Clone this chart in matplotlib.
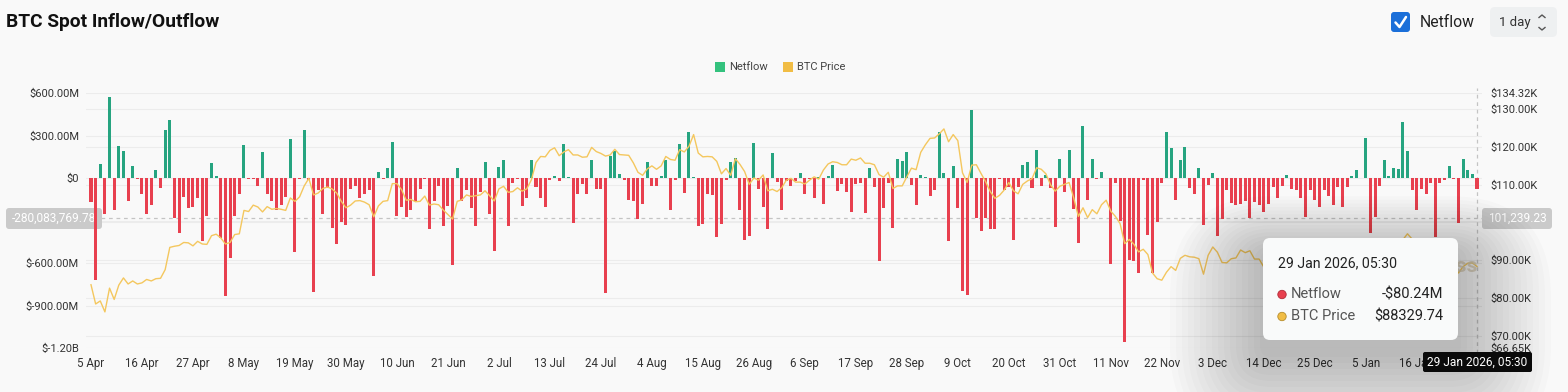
import numpy as np
import pandas as pd
import matplotlib
matplotlib.use("Agg")
import matplotlib.pyplot as plt
from matplotlib.patches import FancyBboxPatch, Rectangle, Circle
from matplotlib.lines import Line2D
from matplotlib.transforms import IdentityTransform

plt.rcParams['font.family'] = ['Roboto', 'DejaVu Sans']

# ---------------- data ----------------
start_date = "2025-04-05"

netflow_musd = [
    -167, -720, 96, -256, 572, -224, 224, 188, -162, 85,
    -3, -111, -252, -191, 56, -73, 336, 409, -280, -388,
    -132, -214, -205, -139, -445, -266, 106, 14, -421, -833,
    -562, -266, -111, 230, -5, -3, -59, 184, -115, -162,
    -228, -191, -134, 273, -522, -8, 339, -10, -802, -87,
    -252, -70, -355, -463, -310, -332, -80, -59, -143, -111,
    -87, -687, 45, -3, 71, 254, -268, -205, -275, -226,
    -158, -80, -5, -362, -162, -59, -339, -198, -616, 71,
    -162, -87, -214, -339, -96, 111, -252, -515, 78, 125,
    -339, -33, -5, -198, -143, 125, -61, -143, -205, -10,
    14, -21, 238, 7, -315, -111, -45, -115, 129, -75,
    -80, -809, 155, 191, 31, -16, -151, -162, -285, -186,
    115, -56, -56, 14, 125, -228, -16, 238, -106, 325,
    7, -339, -327, -111, -120, -416, -327, -12, 115, 139,
    -228, -433, -409, 245, -80, -205, -362, 174, -30, -228,
    -21, -56, -21, 33, -115, -5, -143, 7, -181, 14,
    92, -92, -40, -96, -240, -45, -33, -247, 71, -64,
    -586, -209, -33, -355, 134, 118, 186, -52, -191, 24,
    9, -129, -85, 325, 35, -440, 87, -209, -798, -826,
    482, -280, -374, -280, -362, -362, -9, -87, -60, -433,
    -64, 89, 113, -73, 195, -59, 21, -73, -346, 132,
    -96, 195, -221, -459, 367, -151, 136, -5, 42, 0,
    -605, -35, -303, -1153, -580, -581, -666, -16, -400, -670,
    -308, -34, 328, 210, -152, 130, 219, -70, -112, 74,
    -328, -46, 35, -406, -290, -85, -175, -190, -180, -160,
    -283, -170, -193, -236, -183, -66, -143, -59, 21, -78,
    -83, -137, -275, -83, -153, -205, -83, -129, -188, -64,
    -207, -64, 12, 59, 3, 286, -385, -275, -59, 125,
    12, 68, 63, 393, 193, -83, -228, -78, -111, -35,
    -418, -35, -12, 82, -5, -318, 134, 54, 30, -80.24,
]

btc_price_kusd = [
    83.5, 78.4, 79.2, 76.3, 82.6, 79.6, 83.4, 85.3, 83.7, 84.5,
    83.7, 84.0, 84.9, 84.5, 85.1, 85.2, 87.5, 93.4, 93.7, 93.9,
    94.7, 94.6, 93.8, 95.0, 94.3, 94.2, 96.5, 96.9, 95.9, 94.3,
    94.7, 96.8, 97.0, 103.2, 102.9, 104.6, 104.1, 102.8, 104.2, 103.5,
    103.7, 103.5, 103.2, 106.5, 105.6, 106.8, 109.7, 111.7, 107.3, 107.8,
    109.0, 109.4, 108.9, 107.8, 105.6, 103.9, 104.6, 105.7, 105.8, 105.4,
    104.7, 101.5, 104.4, 105.6, 105.8, 110.3, 110.3, 108.7, 105.9, 106.1,
    105.5, 105.6, 107.0, 104.6, 104.9, 104.7, 103.3, 102.1, 100.9, 105.6,
    106.0, 107.3, 106.9, 107.1, 107.3, 108.4, 107.1, 105.7, 108.9, 109.6,
    108.0, 108.2, 109.2, 108.3, 108.9, 111.3, 115.9, 117.5, 117.4, 119.1,
    119.8, 117.7, 118.7, 119.3, 117.9, 117.9, 117.3, 117.4, 119.9, 118.8,
    118.3, 117.6, 117.9, 119.4, 118.0, 117.9, 117.8, 115.8, 113.3, 112.5,
    114.2, 115.0, 114.1, 115.0, 117.5, 116.7, 116.5, 119.3, 118.7, 120.2,
    123.3, 118.4, 117.4, 117.5, 117.4, 116.2, 112.9, 114.3, 112.5, 116.9,
    115.4, 113.5, 110.1, 111.8, 111.2, 112.6, 108.4, 108.8, 108.2, 109.2,
    111.2, 111.7, 110.7, 110.7, 110.2, 111.2, 112.1, 111.5, 113.9, 115.5,
    116.1, 115.9, 115.3, 115.3, 116.8, 116.5, 117.1, 115.7, 115.7, 115.3,
    112.7, 112.0, 113.3, 109.0, 109.7, 109.7, 112.1, 114.4, 114.0, 118.6,
    120.6, 122.3, 122.4, 123.5, 124.8, 121.4, 123.3, 121.7, 113.2, 110.6,
    115.2, 115.3, 113.0, 110.8, 108.2, 106.4, 107.2, 108.6, 110.6, 108.4,
    107.6, 110.1, 111.0, 111.6, 114.5, 114.1, 112.9, 110.0, 108.3, 109.6,
    110.1, 110.6, 106.5, 101.6, 103.9, 101.3, 103.4, 102.3, 104.7, 105.9,
    103.0, 101.6, 99.7, 94.4, 95.5, 94.2, 92.2, 92.9, 91.5, 86.6,
    85.1, 84.7, 86.8, 88.3, 87.3, 90.5, 91.3, 90.9, 90.8, 90.4,
    86.3, 91.3, 93.5, 92.1, 89.4, 89.3, 90.4, 90.6, 92.7, 92.0,
    92.5, 90.3, 90.3, 88.2, 86.4, 87.8, 86.1, 85.5, 88.1, 88.3,
    88.6, 88.5, 87.6, 87.6, 87.2, 87.3, 87.8, 87.8, 87.1, 88.4,
    87.5, 88.7, 89.9, 90.6, 91.4, 93.8, 93.7, 91.2, 91.0, 90.5,
    90.4, 90.8, 91.1, 95.4, 97.0, 95.6, 95.5, 95.1, 93.6, 92.5,
    88.3, 89.4, 89.5, 89.5, 89.2, 86.6, 88.3, 89.2, 89.3, 88.32974,
]

x_tick_labels = ["5 Apr", "16 Apr", "27 Apr", "8 May", "19 May", "30 May", "10 Jun",
                 "21 Jun", "2 Jul", "13 Jul", "24 Jul", "4 Aug", "15 Aug", "26 Aug",
                 "6 Sep", "17 Sep", "28 Sep", "9 Oct", "20 Oct", "31 Oct", "11 Nov",
                 "22 Nov", "3 Dec", "14 Dec", "25 Dec", "5 Jan", "16 Jan"]

left_ticks_musd = [600, 300, 0, -300, -600, -900, -1200]
left_tick_labels = ["$600.00M", "$300.00M", "$0", "", "$-600.00M", "$-900.00M", "$-1.20B"]
right_ticks_usd = [134320, 130000, 120000, 110000, 100000, 90000, 80000, 70000, 66650]
right_tick_labels = ["$134.32K", "$130.00K", "$120.00K", "$110.00K", "",
                     "$90.00K", "$80.00K", "$70.00K", "$66.65K"]

hover_netflow_musd = -280.08376978
hover_netflow_text = "-280,083,769.78"
hover_price_text = "101,239.23"
tooltip_date = "29 Jan 2026, 05:30"
tooltip_netflow = "-$80.24M"
tooltip_price = "$88329.74"

# ---------------- style ----------------
W, H = 1568, 392
BG = '#f9f9f9'
GREEN = '#26a480'
RED = '#e8404f'
LEG_GREEN = '#34c27e'
PRICE = '#f4c75e'
LEG_YELLOW = '#f1bd45'
GRID = '#ececec'
TXT = '#333333'
T = IdentityTransform()

fig = plt.figure(figsize=(W / 100, H / 100), dpi=100, facecolor=BG)

ax_l, ax_r, ax_t, ax_b = 86, 1482, 93.0, 348.3
ax = fig.add_axes([ax_l / W, 1 - ax_b / H, (ax_r - ax_l) / W, (ax_b - ax_t) / H])
ax.set_facecolor('none')

n = len(netflow_musd)
x = np.arange(n)
price_usd = np.array(btc_price_kusd) * 1000.0

px_per_day = 1386 / 299
xmin = -5 / px_per_day
xmax = xmin + (ax_r - ax_l) / px_per_day
ax.set_xlim(xmin, xmax)
ax.set_ylim(-1200, 600)

# faint grid lines (left and right scales)
p_lo, p_hi = 66650, 134320
def price_to_left(p):
    return -1200 + (p - p_lo) / (p_hi - p_lo) * 1800
for v in left_ticks_musd:
    ax.axhline(v, color=GRID, lw=0.8, zorder=0)
for p in right_ticks_usd[1:-1]:
    ax.axhline(price_to_left(p), color=GRID, lw=0.8, zorder=0)

colors = [GREEN if v >= 0 else RED for v in netflow_musd]
ax.bar(x, netflow_musd, width=0.65, color=colors, zorder=2, linewidth=0)

ax.set_yticks(left_ticks_musd)
ax.set_yticklabels(left_tick_labels)
ax.set_xticks(x[::11][:len(x_tick_labels)])
ax.set_xticklabels(x_tick_labels)
ax.tick_params(axis='y', length=0, pad=5, labelsize=8, labelcolor=TXT)
ax.tick_params(axis='x', length=0, pad=6, labelsize=8.3, labelcolor=TXT)
for s in ax.spines.values():
    s.set_visible(False)

ax2 = ax.twinx()
ax2.set_ylim(p_lo, p_hi)
ax2.plot(x, price_usd, color=PRICE, lw=1.0, zorder=3)
ax2.set_yticks(right_ticks_usd)
ax2.set_yticklabels(right_tick_labels)
ax2.tick_params(axis='y', length=0, pad=6, labelsize=8, labelcolor=TXT)
for s in ax2.spines.values():
    s.set_visible(False)

# crosshair lines
ax.axhline(hover_netflow_musd, color='#c4c4c4', lw=0.9, ls=(0, (3, 3)), zorder=1)
ax.axvline(x[-1], ymin=-0.02, ymax=1.02, color='#c4c4c4', lw=0.9, ls=(0, (3, 3)), zorder=1,
           clip_on=False)

def rbox(x0, y0, x1, y1, fc, r=4, z=5, alpha=1.0, target=None, clip=True):
    p = FancyBboxPatch((x0, H - y1), x1 - x0, y1 - y0,
                       boxstyle=f"round,pad=0,rounding_size={r}",
                       fc=fc, ec='none', transform=T, zorder=z, alpha=alpha)
    if target is None:
        fig.add_artist(p)
    else:
        p.set_clip_on(clip)
        target.add_artist(p)
    return p

def ftext(px, py, s, **kw):
    return fig.text(px / W, 1 - py / H, s, **kw)

# crosshair value labels
rbox(6, 208, 102, 229, '#cacaca', r=3, z=1.5, target=ax, clip=False)
ax.text(54, H - 218.5, hover_netflow_text, transform=T, ha='center', va='center',
        fontsize=8.6, color='white', zorder=1.6, clip_on=False)
rbox(1482, 208, 1552, 229, '#cacaca', r=3, z=6)
ftext(1517, 218.5, hover_price_text, ha='center', va='center', fontsize=8.6, color='white', zorder=7)

# title
ftext(6, 22, "BTC Spot Inflow/Outflow", ha='left', va='center', fontsize=13.8,
      fontweight='bold', color='#111111')

# top-right controls
rbox(1391, 12, 1410, 32, '#1b6fd9', r=3, z=5)
chk = Line2D([1395.5, 1399.5, 1406], [H - 22.5, H - 27, H - 17], transform=T,
             color='white', lw=1.8, solid_capstyle='round', solid_joinstyle='round', zorder=6)
fig.add_artist(chk)
ftext(1420, 22.5, "Netflow", ha='left', va='center', fontsize=11.3, color='#222222')
rbox(1490, 7, 1557, 37, '#eef0f1', r=5, z=5)
ftext(1499, 22.5, "1 day", ha='left', va='center', fontsize=9.5, color='#333333', zorder=6)
for (yy, d) in ((17.5, -1), (27.5, 1)):
    fig.add_artist(Line2D([1539, 1542, 1545], [H - yy, H - (yy + 2.5 * d), H - yy], transform=T,
                          color='#555555', lw=1.0, zorder=6))

# legend
fig.add_artist(Rectangle((715, H - 72), 10, 10, transform=T, fc=LEG_GREEN, ec='none'))
ftext(729, 67, "Netflow", ha='left', va='center', fontsize=8, color='#444444')
fig.add_artist(Rectangle((783, H - 72), 10, 10, transform=T, fc=LEG_YELLOW, ec='none'))
ftext(797, 67, "BTC Price", ha='left', va='center', fontsize=8, color='#444444')

# watermark (mostly hidden by tooltip)
ftext(1478, 266, "coinglass", ha='right', va='center', fontsize=15, fontweight='bold',
      color='#d8ccb4', alpha=0.8, zorder=4)

# tooltip shadow + box
for k in range(16):
    g = 3 + k * 6
    rbox(1263 - g, 238 - g * 0.6 + 14, 1458 + g, 340 + g + 14, '#000000', r=8 + g, z=8,
         alpha=0.014)
rbox(1263, 238, 1458, 340, '#f9fafa', r=7, z=9)
ftext(1278, 263, tooltip_date, ha='left', va='center', fontsize=10.2, color='#222222', zorder=10)
fig.add_artist(Circle((1282, H - 294.5), 4.2, transform=T, fc=RED, ec='#b02a36', lw=0.6, zorder=10))
ftext(1291, 294.5, "Netflow", ha='left', va='center', fontsize=10.5, color='#555555', zorder=10)
ftext(1443, 294.5, tooltip_netflow, ha='right', va='center', fontsize=10.5, color='#222222', zorder=10)
fig.add_artist(Circle((1282, H - 316.5), 4.2, transform=T, fc=LEG_YELLOW, ec='#b68c2a', lw=0.6, zorder=10))
ftext(1291, 316.5, "BTC Price", ha='left', va='center', fontsize=10.5, color='#555555', zorder=10)
ftext(1443, 316.5, tooltip_price, ha='right', va='center', fontsize=10.5, color='#222222', zorder=10)

# bottom crosshair date label
rbox(1423, 352, 1532, 372, '#0a0a0a', r=2, z=9)
ftext(1477.5, 362, tooltip_date, ha='center', va='center', fontsize=8.6, color='white', zorder=10)

fig.savefig("out.png", dpi=100, facecolor=BG)
